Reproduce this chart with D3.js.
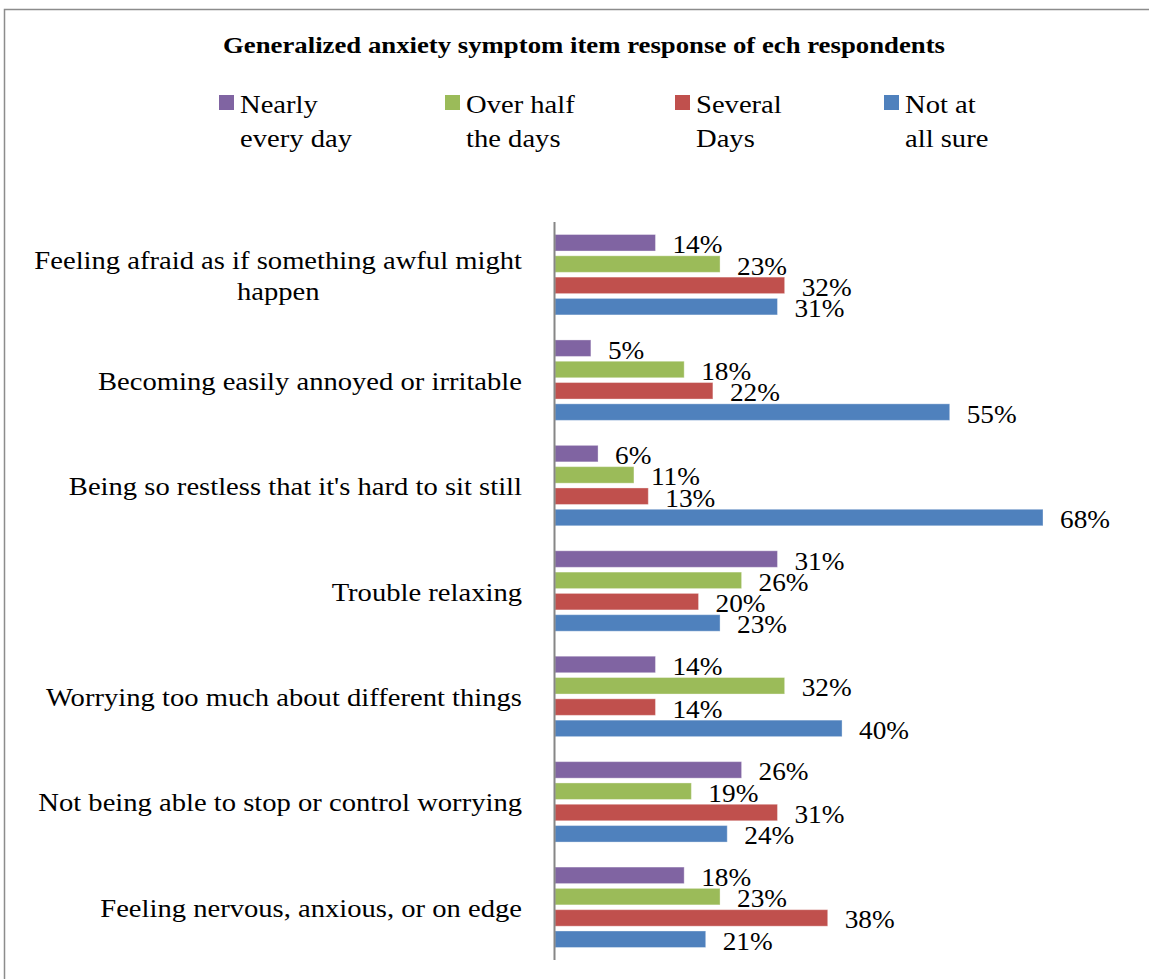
<!DOCTYPE html>
<html>
<head>
<meta charset="utf-8">
<script src="https://cdn.jsdelivr.net/npm/d3@7"></script>
<style>
  body { margin: 0; background: #fff; }
  text { font-family: "Liberation Serif", "Times New Roman", serif; fill: #000; }
</style>
</head>
<body>
<svg id="chart"></svg>
<script>
const width = 1149;
const height = 979;

const categories = [
  ["Feeling afraid as if something awful might", "happen"],
  ["Becoming easily annoyed or irritable"],
  ["Being so restless that it's hard to sit still"],
  ["Trouble relaxing"],
  ["Worrying too much about different things"],
  ["Not being able to stop or control worrying"],
  ["Feeling nervous, anxious, or on edge"]
];
const seriesNames = [
  ["Nearly", "every day"],
  ["Over half", "the days"],
  ["Several", "Days"],
  ["Not at", "all sure"]
];
const nearlyEveryDay = [14, 5, 6, 31, 14, 26, 18];
const overHalfTheDays = [23, 18, 11, 26, 32, 19, 23];
const severalDays = [32, 22, 13, 20, 14, 31, 38];
const notAtAllSure = [31, 55, 68, 23, 40, 24, 21];
const colors = ["#8064A2", "#9BBB59", "#C0504D", "#4F81BD"];

const series = [nearlyEveryDay, overHalfTheDays, severalDays, notAtAllSure];
const rows = categories.map((c, i) => ({
  key: c.join(" "),
  lines: c,
  values: series.map((s, j) => ({ j, v: s[i] }))
}));

// the source picture is a little wider than tall, so text is stretched sideways
const sx = 1.1;

const svg = d3.select("#chart").attr("width", width).attr("height", height);

svg.append("rect").attr("width", width).attr("height", height).attr("fill", "#fff");

// outer frame (only top and left edges visible)
svg.append("path")
  .attr("d", `M4.5,${height} V9.5 H${width}`)
  .attr("fill", "none")
  .attr("stroke", "#8c8c8c")
  .attr("stroke-width", 1.5);

svg.append("text")
  .attr("transform", "translate(584,53) scale(1.115,1)")
  .attr("text-anchor", "middle")
  .style("font-size", "24px")
  .style("font-weight", "bold")
  .text("Generalized anxiety symptom item response of ech respondents");

// legend
const legendX = [219, 445, 675, 884];
const legend = svg.selectAll("g.legend")
  .data(seriesNames)
  .enter()
  .append("g")
  .classed("legend", true)
  .attr("transform", (d, i) => `translate(${legendX[i]},95)`);
legend.append("rect")
  .attr("width", 15).attr("height", 15)
  .attr("fill", (d, i) => colors[i]);
legend.append("text")
  .attr("transform", `translate(21,18) scale(${sx},1)`)
  .style("font-size", "26px")
  .selectAll("tspan")
  .data(d => d)
  .enter()
  .append("tspan")
  .attr("x", 0)
  .attr("dy", (d, i) => i ? 34 : 0)
  .text(d => d);

const x = d3.scaleLinear().domain([0, 68]).range([555, 1043]);
const y = d3.scaleBand().domain(rows.map(d => d.key)).range([222, 960]);
const yInner = d3.scaleBand().domain([0, 1, 2, 3]).range([0, y.bandwidth()])
  .paddingInner(0.225).paddingOuter(0.587);

const group = svg.selectAll("g.cat")
  .data(rows)
  .enter()
  .append("g")
  .classed("cat", true)
  .attr("transform", d => `translate(0,${y(d.key)})`);

group.selectAll("rect")
  .data(d => d.values)
  .enter()
  .append("rect")
  .attr("x", x(0))
  .attr("y", d => yInner(d.j))
  .attr("width", d => x(d.v) - x(0))
  .attr("height", yInner.bandwidth())
  .attr("fill", d => colors[d.j])
  .attr("stroke", "rgba(255,255,255,0.35)")
  .attr("stroke-width", 1);

group.selectAll("text.val")
  .data(d => d.values)
  .enter()
  .append("text")
  .classed("val", true)
  .attr("transform", d =>
    `translate(${x(d.v) + 17},${yInner(d.j) + yInner.bandwidth() / 2 + 10.5}) scale(1.05,1)`)
  .style("font-size", "26px")
  .text(d => d.v + "%");

// category labels: block right-aligned, lines centred in block
group.each(function(d) {
  const g = d3.select(this);
  const cy = y.bandwidth() / 2;
  const lh = 31;
  const y0 = cy + 9.5 - (d.lines.length - 1) * lh / 2;
  const t = g.append("text")
    .style("font-size", "26px")
    .attr("text-anchor", "middle")
    .attr("transform", `translate(522,${y0}) scale(${sx},1)`);
  const tspans = t.selectAll("tspan").data(d.lines).enter().append("tspan")
    .text(s => s);
  const maxW = d3.max(tspans.nodes(), n => n.getComputedTextLength());
  tspans.attr("x", -maxW / 2).attr("y", (s, i) => i * lh);
});

svg.append("line")
  .attr("x1", x(0) - 0.5).attr("x2", x(0) - 0.5)
  .attr("y1", 222).attr("y2", 960)
  .attr("stroke", "#868686")
  .attr("stroke-width", 2);
</script>
</body>
</html>
